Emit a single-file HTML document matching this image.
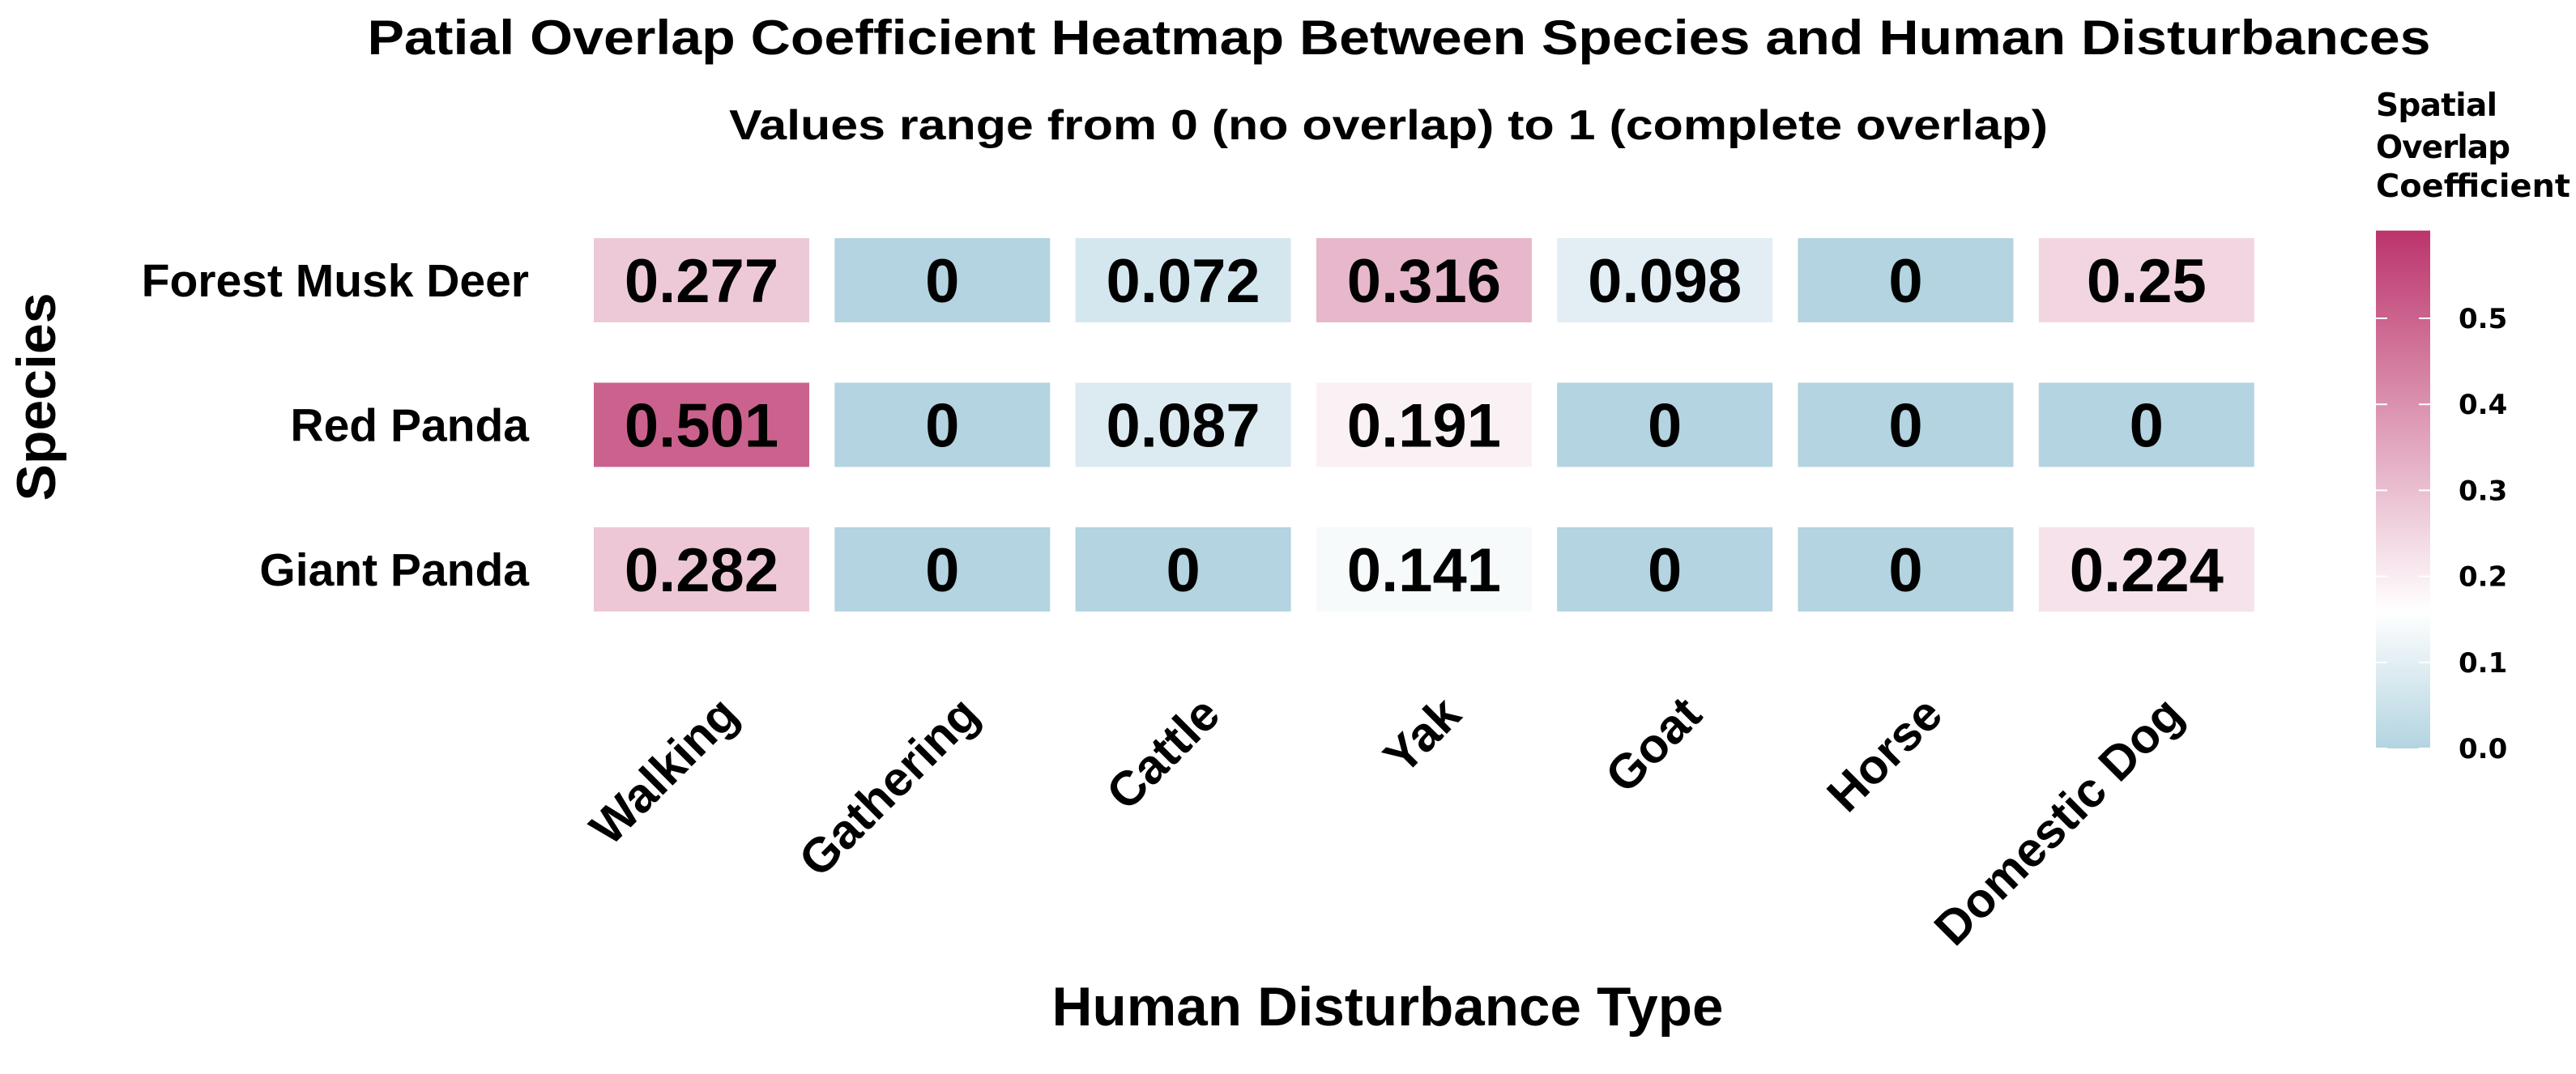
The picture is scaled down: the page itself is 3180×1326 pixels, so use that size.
<!DOCTYPE html>
<html><head><meta charset="utf-8"><style>
html,body{margin:0;padding:0;background:#fff;}
svg{display:block;}
</style></head><body>
<svg id="chart" width="3180" height="1326" viewBox="0 0 3180 1326" xmlns="http://www.w3.org/2000/svg">
<rect width="3180" height="1326" fill="#fff"/>
<text x="1727" y="67" text-anchor="middle" font-family="Liberation Sans, sans-serif" font-weight="bold" font-size="60" textLength="2547" lengthAdjust="spacingAndGlyphs">Patial Overlap Coefficient Heatmap Between Species and Human Disturbances</text>
<text x="1714" y="172" text-anchor="middle" font-family="Liberation Sans, sans-serif" font-weight="bold" font-size="52" textLength="1628" lengthAdjust="spacingAndGlyphs">Values range from 0 (no overlap) to 1 (complete overlap)</text>
<g id="cells"></g>
<g id="ylabels"></g>
<g id="xlabels"></g>
<text transform="translate(68,490) rotate(-90)" text-anchor="middle" font-family="Liberation Sans, sans-serif" font-weight="bold" font-size="68">Species</text>
<text x="1713" y="1266" text-anchor="middle" font-family="Liberation Sans, sans-serif" font-weight="bold" font-size="68" textLength="829" lengthAdjust="spacingAndGlyphs">Human Disturbance Type</text>
<g id="legend">
<defs><linearGradient id="lg" x1="0" y1="1" x2="0" y2="0"></linearGradient></defs>
<text font-family="DejaVu Sans, sans-serif" font-weight="bold" font-size="39"><tspan x="2933" y="143" textLength="150">Spatial</tspan><tspan x="2933" y="195" textLength="166">Overlap</tspan><tspan x="2933" y="243" textLength="240" lengthAdjust="spacingAndGlyphs">Coefficient</tspan></text>
</g>
</svg>
<script>
const species = ["Forest Musk Deer", "Red Panda", "Giant Panda"];
const disturbances = ["Walking", "Gathering", "Cattle", "Yak", "Goat", "Horse", "Domestic Dog"];
const rowForestMuskDeer = [0.277, 0, 0.072, 0.316, 0.098, 0, 0.25];
const rowRedPanda = [0.501, 0, 0.087, 0.191, 0, 0, 0];
const rowGiantPanda = [0.282, 0, 0, 0.141, 0, 0, 0.224];
const legendTicks = [0.0, 0.1, 0.2, 0.3, 0.4, 0.5];
const legendMax = 0.602;
const colorMid = 0.16;

const NS = "http://www.w3.org/2000/svg";
const values = [rowForestMuskDeer, rowRedPanda, rowGiantPanda];
const colX0 = 866, colStep = 297.3, tileW = 266;
const rowY0 = 346, rowStep = 178.5, tileH = 104;
function xPos(i){ return colX0 + i*colStep; }
function yPos(j){ return rowY0 + j*rowStep; }
const cLow=[179,212,224], cMid=[255,255,255], cHigh=[188,52,108];
function lerp(a,b,t){ return a.map((v,k)=>Math.round(v+(b[k]-v)*t)); }
function color(v){
  let c;
  if (v <= colorMid) c = lerp(cLow,cMid,Math.max(0,v)/colorMid);
  else c = lerp(cMid,cHigh,Math.min(1,(v-colorMid)/(legendMax-colorMid)));
  return "rgb("+c.join(",")+")";
}
function mk(tag, attrs, parent){
  const e=document.createElementNS(NS,tag);
  for(const k in attrs) e.setAttribute(k, attrs[k]);
  parent.appendChild(e); return e;
}
const cells=document.getElementById("cells");
values.forEach((row,j)=>{
  row.forEach((v,i)=>{
    const r=mk("rect",{x:xPos(i)-tileW/2,y:yPos(j)-tileH/2,width:tileW,height:tileH,fill:color(v)},cells);
    
    
    const t=mk("text",{x:xPos(i),y:yPos(j)+27,"text-anchor":"middle","font-family":"Liberation Sans, sans-serif","font-weight":"bold","font-size":"76"},cells);
    t.textContent=String(v);
    
    
  });
});
const yl=document.getElementById("ylabels");
species.forEach((s,j)=>{
  const t=mk("text",{x:653,y:yPos(j)+20,"text-anchor":"end","font-family":"Liberation Sans, sans-serif","font-weight":"bold","font-size":"57"},yl);
  t.textContent=s;
  
  
});
const xl=document.getElementById("xlabels");
disturbances.forEach((d,i)=>{
  const ax=xPos(i)+18, ay=855;
  const t=mk("text",{x:0,y:0,dy:"0.72em",transform:"translate("+ax+","+ay+") rotate(-45)","text-anchor":"end","font-family":"Liberation Sans, sans-serif","font-weight":"bold","font-size":"60"},xl);
  t.textContent=d;
  
  
});
const lg=document.getElementById("lg");
const stops=[[0,cLow],[colorMid/legendMax,cMid],[1,cHigh]];
stops.forEach(s=>{ mk("stop",{offset:s[0],"stop-color":"rgb("+s[1].join(",")+")"},lg); });
const leg=document.getElementById("legend");
const barX=2933, barW=67, barBottom=924, perUnit=1062;
function ly(v){ return barBottom - v*perUnit; }
const bar=mk("rect",{x:barX,y:ly(legendMax),width:barW,height:legendMax*perUnit,fill:"url(#lg)"},leg);


legendTicks.forEach(v=>{
  mk("line",{x1:barX,x2:barX+14,y1:ly(v),y2:ly(v),stroke:"#fff","stroke-width":2},leg);
  mk("line",{x1:barX+barW-14,x2:barX+barW,y1:ly(v),y2:ly(v),stroke:"#fff","stroke-width":2},leg);
  const t=mk("text",{x:3035,y:ly(v)+12,"font-family":"DejaVu Sans, sans-serif","font-weight":"bold","font-size":"34"},leg);
  t.textContent=v.toFixed(1);
  
  
});
</script>
</body></html>
